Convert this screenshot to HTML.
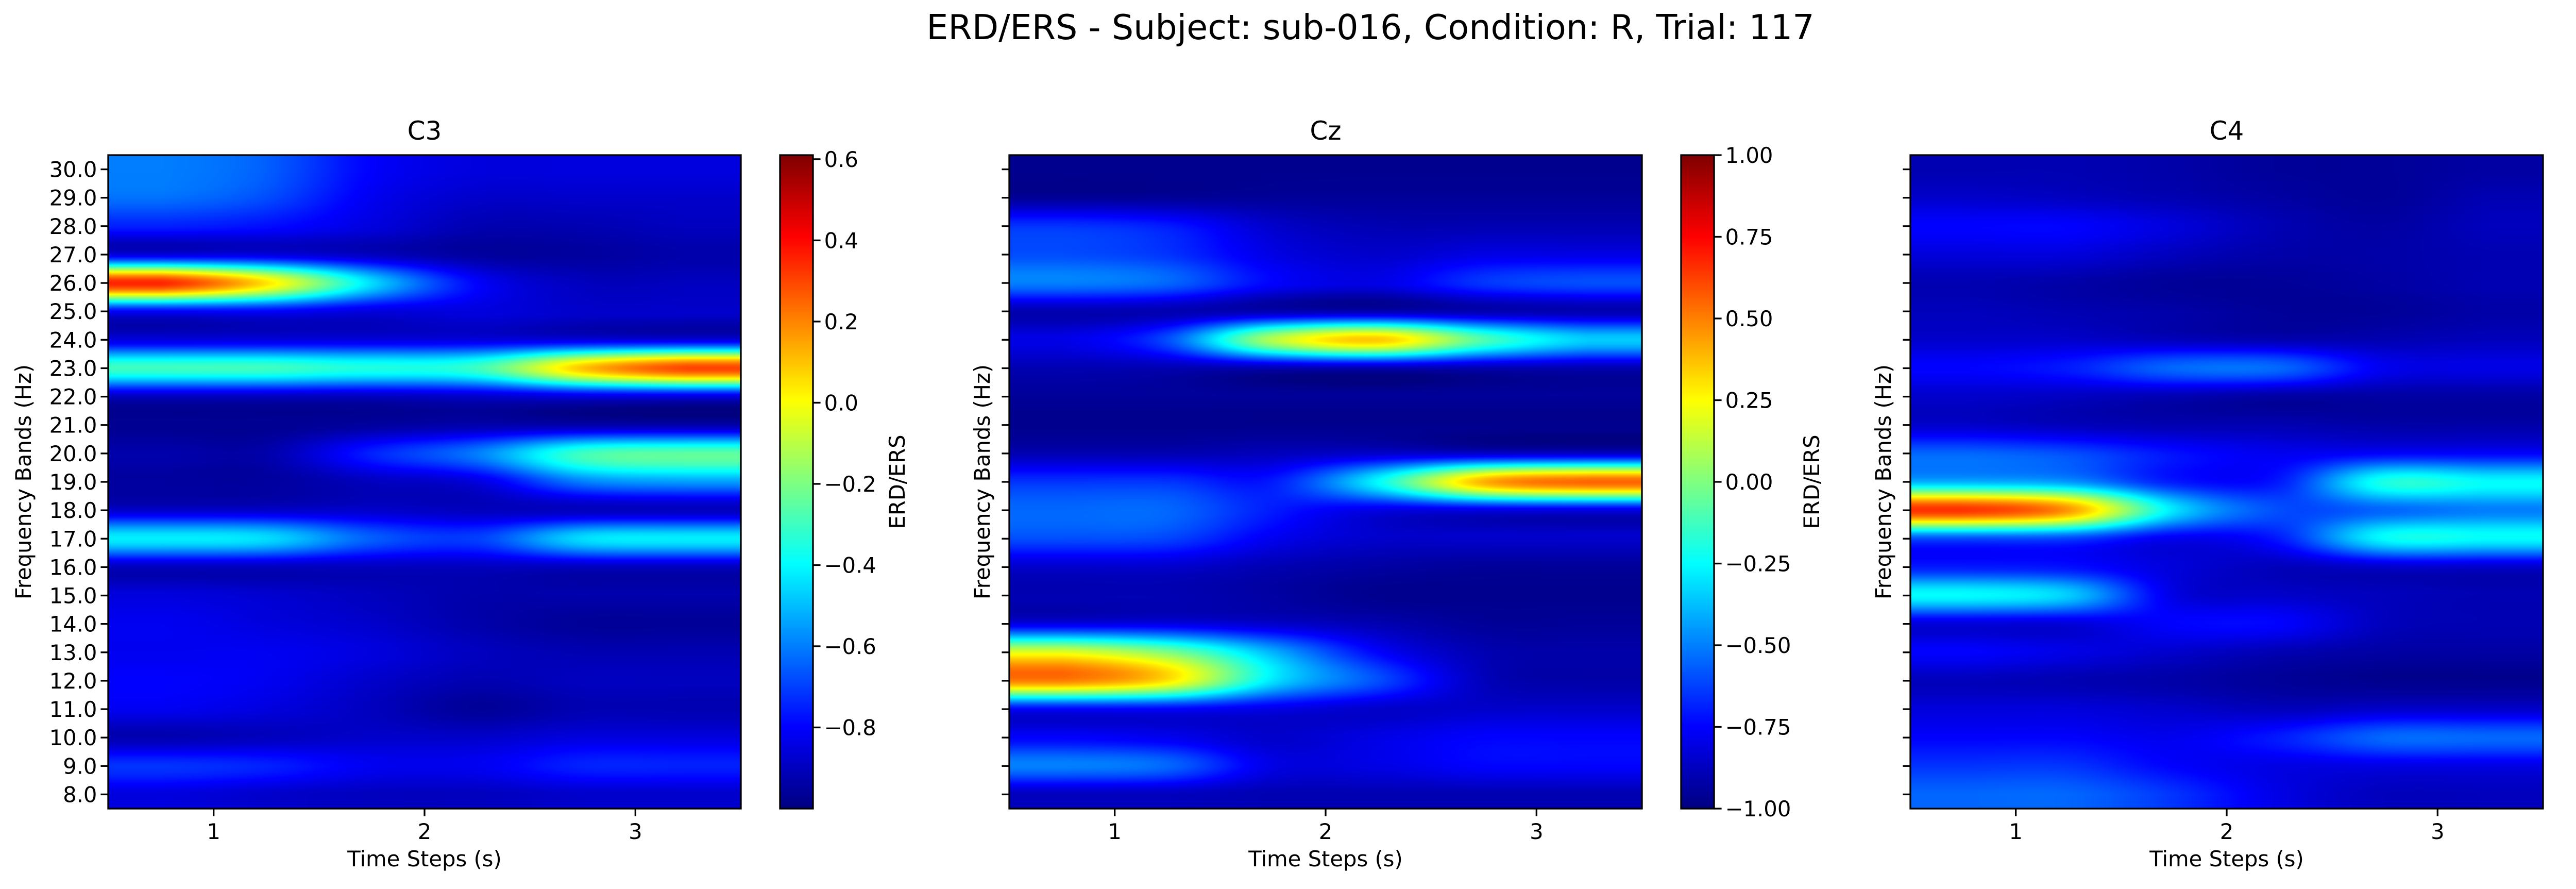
<!DOCTYPE html>
<html><head><meta charset="utf-8">
<meta name="viewport" content="width=5319, initial-scale=1">
<style>
html,body{margin:0;padding:0;background:#fff;width:5319px;height:1725px;overflow:hidden;}
#fig{position:absolute;left:0;top:0;width:5319px;height:1725px;overflow:hidden;background:#fff;font-family:"DejaVu Sans","Liberation Sans",sans-serif;}
canvas{position:absolute;display:block;}
svg{position:absolute;left:0;top:0;display:block;overflow:hidden;}
</style></head>
<body>
<div id="fig">
<canvas id="hm0"></canvas>
<canvas id="hm1"></canvas>
<canvas id="hm2"></canvas>
<canvas id="cb0"></canvas>
<canvas id="cb1"></canvas>
<canvas id="cb2"></canvas>
<svg id="ov" width="5319" height="1725" viewBox="0 0 5319 1725"></svg>
</div>
<script>
// ---- data ----
const freqs = [30,29,28,27,26,25,24,23,22,21,20,19,18,17,16,15,14,13,12,11,10,9,8];
const times = [0.75,1.25,1.75,2.25,2.75,3.25];
const xTicks = [1,2,3];
const channels = ["C3","Cz","C4"];
const vmins = [-1.0,-1.0,-1.0];
const vmaxs = [0.61,1.0,1.0];
const cbTicksC3 = [-0.8,-0.6,-0.4,-0.2,0.0,0.2,0.4,0.6];
const cbTicks1 = [-1.0,-0.75,-0.5,-0.25,0.0,0.25,0.5,0.75,1.0];
const valuesC3 = [
[-0.6,-0.65,-0.8,-0.85,-0.85,-0.85],
[-0.62,-0.68,-0.82,-0.88,-0.88,-0.88],
[-0.75,-0.78,-0.85,-0.92,-0.92,-0.9],
[-0.85,-0.85,-0.9,-0.95,-0.95,-0.93],
[0.35,0.05,-0.45,-0.8,-0.9,-0.9],
[-0.8,-0.8,-0.85,-0.85,-0.88,-0.88],
[-0.85,-0.85,-0.85,-0.85,-0.85,-0.85],
[-0.3,-0.3,-0.35,-0.3,0.1,0.3],
[-0.9,-0.9,-0.9,-0.88,-0.85,-0.85],
[-0.97,-0.97,-0.95,-0.93,-0.93,-0.93],
[-0.93,-0.93,-0.75,-0.6,-0.3,-0.25],
[-0.95,-0.95,-0.9,-0.85,-0.6,-0.55],
[-0.88,-0.88,-0.88,-0.9,-0.9,-0.9],
[-0.42,-0.45,-0.65,-0.7,-0.45,-0.42],
[-0.9,-0.9,-0.9,-0.9,-0.9,-0.9],
[-0.85,-0.87,-0.9,-0.93,-0.93,-0.93],
[-0.82,-0.85,-0.88,-0.93,-0.96,-0.96],
[-0.82,-0.82,-0.85,-0.9,-0.92,-0.92],
[-0.8,-0.82,-0.88,-0.92,-0.9,-0.9],
[-0.82,-0.85,-0.9,-0.96,-0.92,-0.92],
[-0.92,-0.9,-0.88,-0.88,-0.85,-0.85],
[-0.72,-0.75,-0.82,-0.82,-0.75,-0.75],
[-0.85,-0.88,-0.9,-0.9,-0.88,-0.88]];
const valuesCz = [
[-0.97,-0.97,-0.97,-0.97,-0.97,-0.97],
[-0.95,-0.95,-0.95,-0.95,-0.95,-0.95],
[-0.65,-0.7,-0.85,-0.9,-0.9,-0.9],
[-0.6,-0.65,-0.8,-0.85,-0.8,-0.8],
[-0.5,-0.55,-0.75,-0.8,-0.65,-0.6],
[-0.9,-0.9,-0.9,-0.9,-0.9,-0.9],
[-0.8,-0.6,0.1,0.35,-0.1,-0.35],
[-0.9,-0.9,-0.9,-0.9,-0.9,-0.9],
[-0.95,-0.95,-0.95,-0.95,-0.95,-0.95],
[-0.97,-0.97,-0.97,-0.97,-0.97,-0.97],
[-0.9,-0.9,-0.88,-0.85,-0.85,-0.85],
[-0.65,-0.65,-0.7,-0.25,0.4,0.55],
[-0.55,-0.55,-0.7,-0.8,-0.8,-0.8],
[-0.6,-0.62,-0.78,-0.85,-0.85,-0.85],
[-0.85,-0.85,-0.9,-0.93,-0.95,-0.95],
[-0.9,-0.9,-0.93,-0.97,-0.97,-0.97],
[-0.8,-0.8,-0.85,-0.9,-0.95,-0.95],
[0.2,0.0,-0.4,-0.75,-0.9,-0.92],
[0.5,0.3,-0.3,-0.6,-0.88,-0.92],
[-0.75,-0.75,-0.8,-0.85,-0.85,-0.85],
[-0.75,-0.78,-0.85,-0.8,-0.75,-0.75],
[-0.5,-0.55,-0.8,-0.8,-0.75,-0.75],
[-0.88,-0.88,-0.9,-0.9,-0.9,-0.9]];
const valuesC4 = [
[-0.9,-0.9,-0.92,-0.95,-0.95,-0.93],
[-0.85,-0.87,-0.9,-0.93,-0.95,-0.9],
[-0.75,-0.75,-0.82,-0.9,-0.93,-0.88],
[-0.82,-0.82,-0.88,-0.92,-0.92,-0.9],
[-0.9,-0.92,-0.95,-0.95,-0.93,-0.9],
[-0.88,-0.9,-0.92,-0.95,-0.95,-0.92],
[-0.85,-0.85,-0.88,-0.9,-0.9,-0.88],
[-0.75,-0.7,-0.55,-0.55,-0.78,-0.8],
[-0.85,-0.87,-0.9,-0.93,-0.93,-0.93],
[-0.85,-0.88,-0.9,-0.9,-0.92,-0.92],
[-0.55,-0.6,-0.72,-0.78,-0.75,-0.75],
[-0.4,-0.45,-0.7,-0.7,-0.2,-0.25],
[0.65,0.45,-0.3,-0.6,-0.55,-0.5],
[-0.6,-0.62,-0.78,-0.7,-0.25,-0.25],
[-0.7,-0.72,-0.82,-0.88,-0.85,-0.85],
[-0.25,-0.35,-0.8,-0.85,-0.88,-0.9],
[-0.82,-0.82,-0.75,-0.75,-0.88,-0.9],
[-0.75,-0.8,-0.85,-0.9,-0.93,-0.93],
[-0.88,-0.9,-0.92,-0.95,-0.97,-0.97],
[-0.82,-0.82,-0.85,-0.88,-0.85,-0.85],
[-0.75,-0.75,-0.78,-0.7,-0.55,-0.55],
[-0.65,-0.65,-0.75,-0.8,-0.8,-0.8],
[-0.55,-0.55,-0.65,-0.8,-0.88,-0.88]];
const allValues = [valuesC3,valuesCz,valuesC4];

// ---- layout ----
const AX_L = [210,1959,3708], AX_W = 1228, AX_T = 301, AX_H = 1268;
const CB_L = [1514,3263,5013], CB_W = 64;
const T0 = 0.5, T1 = 3.5, F0 = 7.5, F1 = 30.5;
const xScale = (i,t)=>AX_L[i] + (t-T0)/(T1-T0)*AX_W;
const yScale = f=>AX_T + (F1-f)/(F1-F0)*AX_H;

function jet(v){
  const r=Math.min(Math.max(Math.min(4*v-1.5,-4*v+4.5),0),1);
  const g=Math.min(Math.max(Math.min(4*v-0.5,-4*v+3.5),0),1);
  const b=Math.min(Math.max(Math.min(4*v+0.5,-4*v+2.5),0),1);
  return [r*255,g*255,b*255];
}
function cubicW(t){
  const t2=t*t,t3=t2*t;
  return [(-t3+2*t2-t)/2,(3*t3-5*t2+2)/2,(-3*t3+4*t2+t)/2,(t3-t2)/2];
}
function sampleGrid(M,rf,cf){
  const R=M.length,C=M[0].length;
  rf=Math.max(0,Math.min(R-1,rf)); cf=Math.max(0,Math.min(C-1,cf));
  const r0=Math.floor(rf),c0=Math.floor(cf);
  const wr=cubicW(rf-r0),wc=cubicW(cf-c0);
  let s=0;
  for(let a=0;a<4;a++){const rr=Math.max(0,Math.min(R-1,r0-1+a));
    for(let b=0;b<4;b++){const cc=Math.max(0,Math.min(C-1,c0-1+b));
      s+=wr[a]*wc[b]*M[rr][cc];}}
  return s;
}
for(let i=0;i<3;i++){
  const cv=document.getElementById('hm'+i);
  const W=AX_W,H=AX_H;
  cv.width=W;cv.height=H;
  cv.style.left=AX_L[i]+'px';cv.style.top=AX_T+'px';
  cv.style.width=W+'px';cv.style.height=H+'px';
  const ctx=cv.getContext('2d');const img=ctx.createImageData(W,H);
  const M=allValues[i],vmin=vmins[i],vmax=vmaxs[i];
  const dt=times[1]-times[0];
  for(let y=0;y<H;y++){
    const f=F1-(y+0.5)/H*(F1-F0);
    const rf=(freqs[0]-f)/(freqs[0]-freqs[1]);
    for(let x=0;x<W;x++){
      const t=T0+(x+0.5)/W*(T1-T0);
      const cf=(t-times[0])/dt;
      let v=sampleGrid(M,rf,cf);
      let n=(v-vmin)/(vmax-vmin);n=Math.max(0,Math.min(1,n));
      const c=jet(n);const k=(y*W+x)*4;
      img.data[k]=c[0];img.data[k+1]=c[1];img.data[k+2]=c[2];img.data[k+3]=255;
    }
  }
  ctx.putImageData(img,0,0);
  const cb=document.getElementById('cb'+i);
  cb.width=CB_W;cb.height=AX_H;cb.style.left=CB_L[i]+'px';cb.style.top=AX_T+'px';
  cb.style.width=CB_W+'px';cb.style.height=AX_H+'px';
  const c2=cb.getContext('2d');
  for(let y=0;y<AX_H;y++){const c=jet(1-(y+0.5)/AX_H);c2.fillStyle='rgb('+c.map(Math.round).join(',')+')';c2.fillRect(0,y,CB_W,1);}
}

// ---- overlay ----
const NS='http://www.w3.org/2000/svg';
const ov=document.getElementById('ov');
function mk(tag,attrs,parent){const e=document.createElementNS(NS,tag);for(const k in attrs)e.setAttribute(k,attrs[k]);(parent||ov).appendChild(e);return e;}
const fmt=(v,d)=>(v<0?'\u2212':'')+Math.abs(v).toFixed(d);
const TL=14.6, SW=3.3, FS=41.7;

let t=mk('text',{x:2660,y:76,'font-size':66.7,'text-anchor':'middle'});
t.textContent='ERD/ERS - Subject: sub-016, Condition: R, Trial: 117';



for(let i=0;i<3;i++){
  const g=mk('g',{});
  
  
  const r=mk('rect',{x:AX_L[i],y:AX_T,width:AX_W,height:AX_H,fill:'none',stroke:'#000','stroke-width':SW},g);
  
  
  const st=mk('text',{x:AX_L[i]+AX_W/2,y:AX_T-30,'font-size':50,'text-anchor':'middle'},g);
  st.textContent=channels[i];
  
  
  freqs.forEach(f=>{
    const y=yScale(f);
    mk('line',{x1:AX_L[i],x2:AX_L[i]-TL,y1:y,y2:y,stroke:'#000','stroke-width':SW},g);
    if(i===0){const l=mk('text',{x:AX_L[i]-TL-7,y:y+15,'font-size':FS,'text-anchor':'end'},g);l.textContent=f.toFixed(1);
      
      }
  });
  xTicks.forEach(v=>{
    const x=xScale(i,v);
    mk('line',{x1:x,x2:x,y1:AX_T+AX_H,y2:AX_T+AX_H+TL,stroke:'#000','stroke-width':SW},g);
    const l=mk('text',{x:x,y:1628,'font-size':FS,'text-anchor':'middle'},g);l.textContent=String(v);
    
    
  });
  const xl=mk('text',{x:AX_L[i]+AX_W/2,y:1681,'font-size':FS,'text-anchor':'middle'},g);xl.textContent='Time Steps (s)';
  
  
  const yx=(i===0?60:AX_L[i]-38);
  const yl=mk('text',{x:yx,y:AX_T+AX_H/2,'font-size':FS,'text-anchor':'middle',transform:'rotate(-90 '+yx+' '+(AX_T+AX_H/2)+')'},g);
  yl.textContent='Frequency Bands (Hz)';
  
  
  const cg=mk('g',{});
  
  
  mk('rect',{x:CB_L[i],y:AX_T,width:CB_W,height:AX_H,fill:'none',stroke:'#000','stroke-width':SW},cg);
  const ticks=i===0?cbTicksC3:cbTicks1, dec=i===0?1:2;
  ticks.forEach(v=>{
    const y=AX_T+(vmaxs[i]-v)/(vmaxs[i]-vmins[i])*AX_H;
    mk('line',{x1:CB_L[i]+CB_W,x2:CB_L[i]+CB_W+TL,y1:y,y2:y,stroke:'#000','stroke-width':SW},cg);
    const l=mk('text',{x:CB_L[i]+CB_W+TL+7,y:y+15,'font-size':FS},cg);l.textContent=fmt(v,dec);
    
    
  });
  const lx=CB_L[i]+CB_W+(i===0?178:204);
  const cl=mk('text',{x:lx,y:AX_T+AX_H/2,'font-size':FS,'text-anchor':'middle',transform:'rotate(-90 '+lx+' '+(AX_T+AX_H/2)+')'},cg);
  cl.textContent='ERD/ERS';
  
  
}
</script>
</body></html>
